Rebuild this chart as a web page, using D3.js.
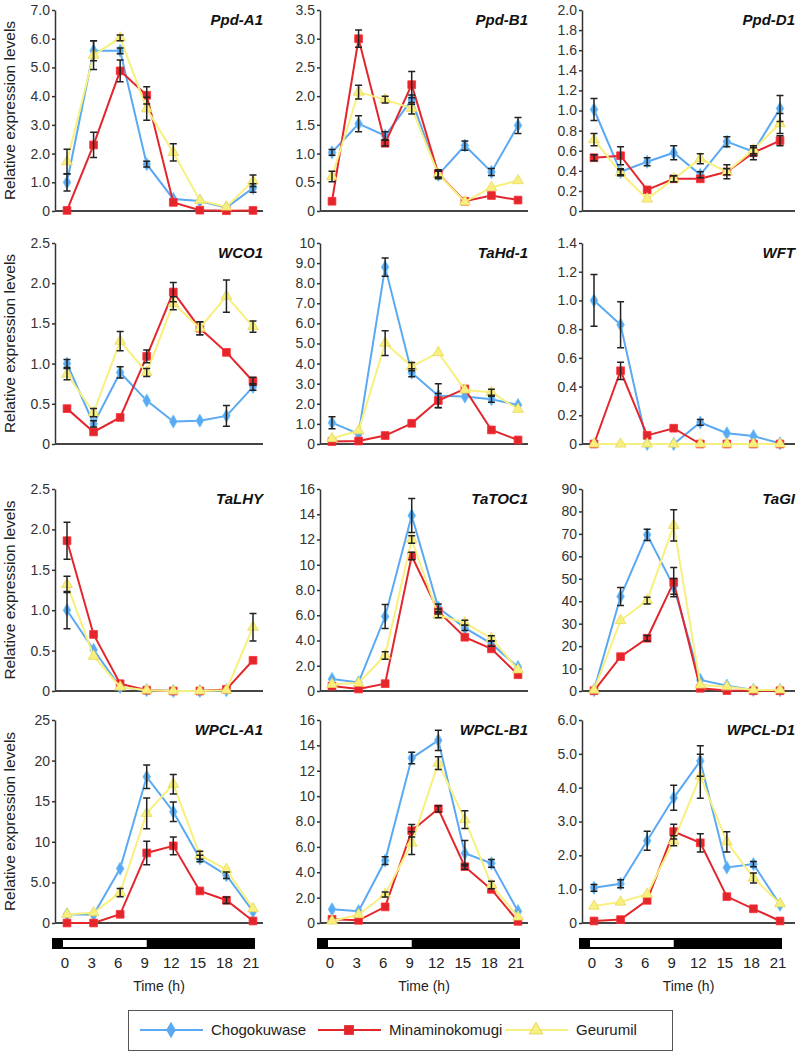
<!DOCTYPE html>
<html lang="en">
<head>
  <meta charset="UTF-8">
  <title>Diurnal expression of flowering genes</title>
  <script src="https://d3js.org/d3.v7.min.js"></script>
  <style>
    body { margin: 0; background: #fff; }
    svg { font-family: "Liberation Sans", Arial, sans-serif; display: block; }
    .axis path, .axis line { stroke: #333; stroke-width: 1.5; }
    .axis text { fill: #333; font-size: 14px; }
  </style>
</head>
<body>
  <svg width="800" height="1057"></svg>
  <script>
    // time points (h)
    const times = [0, 3, 6, 9, 12, 15, 18, 21];
    const genes = ["Ppd-A1", "Ppd-B1", "Ppd-D1", "WCO1", "TaHd-1", "WFT",
                   "TaLHY", "TaTOC1", "TaGI", "WPCL-A1", "WPCL-B1", "WPCL-D1"];
    const yMax = [7, 3.5, 2, 2.5, 10, 1.4, 2.5, 16, 90, 25, 16, 6];
    const yTicks = [
      [0, 1, 2, 3, 4, 5, 6, 7],
      [0, 0.5, 1, 1.5, 2, 2.5, 3, 3.5],
      [0, 0.2, 0.4, 0.6, 0.8, 1, 1.2, 1.4, 1.6, 1.8, 2],
      [0, 0.5, 1, 1.5, 2, 2.5],
      [0, 1, 2, 3, 4, 5, 6, 7, 8, 9, 10],
      [0, 0.2, 0.4, 0.6, 0.8, 1, 1.2, 1.4],
      [0, 0.5, 1, 1.5, 2, 2.5],
      [0, 2, 4, 6, 8, 10, 12, 14, 16],
      [0, 10, 20, 30, 40, 50, 60, 70, 80, 90],
      [0, 5, 10, 15, 20, 25],
      [0, 2, 4, 6, 8, 10, 12, 14, 16],
      [0, 1, 2, 3, 4, 5, 6]
    ];

    const seriesNames = ["Chogokuwase", "Minaminokomugi", "Geurumil"];

    // Chogokuwase (blue)
    const chogokuwase = [
      [1.0, 5.58, 5.58, 1.63, 0.42, 0.35, 0.12, 0.8],
      [1.02, 1.52, 1.31, 1.94, 0.63, 1.14, 0.68, 1.49],
      [1.01, 0.39, 0.49, 0.58, 0.36, 0.69, 0.59, 1.02],
      [1.0, 0.25, 0.89, 0.54, 0.28, 0.29, 0.35, 0.71],
      [1.06, 0.5, 8.8, 3.55, 2.4, 2.36, 2.23, 1.94],
      [1.0, 0.83, 0, 0, 0.15, 0.075, 0.055, 0.005],
      [1.0, 0.51, 0.05, 0.01, 0, 0, 0.01, null],
      [0.95, 0.68, 5.9, 13.9, 6.6, 5.0, 3.75, 1.89],
      [0.4, 42.1, 69.6, 46.6, 4.9, 2.4, 0.5, 0.4],
      [1.07, 1.03, 6.7, 18.0, 13.7, 7.94, 5.88, 1.44],
      [1.08, 0.93, 4.92, 13.0, 14.4, 5.5, 4.7, 0.93],
      [1.04, 1.16, 2.43, 3.7, 4.79, 1.64, 1.74, 0.54]
    ];
    const chogokuwaseErr = [
      [0.3, 0.35, 0.1, 0.1, 0.05, 0.05, 0.05, 0.15],
      [0.05, 0.14, 0.07, 0.08, 0.07, 0.08, 0.06, 0.14],
      [0.11, 0.03, 0.04, 0.07, 0.03, 0.05, 0.04, 0.13],
      [0.05, 0.04, 0.07, 0.03, 0.02, 0.02, 0.13, 0.04],
      [0.3, 0.05, 0.45, 0.2, 0.6, 0.1, 0.15, 0.1],
      [0.18, 0.16, 0, 0, 0.02, 0.01, 0.01, 0],
      [0.23, 0.03, 0.01, 0, 0, 0, 0, 0],
      [0.1, 0.05, 0.95, 1.35, 0.3, 0.2, 0.2, 0.1],
      [0.2, 4, 2.5, 3.5, 0.5, 0.3, 0.1, 0.1],
      [0.1, 0.1, 0.3, 1.45, 1.2, 0.4, 0.4, 0.2],
      [0.05, 0.05, 0.3, 0.45, 0.8, 1.0, 0.3, 0.1],
      [0.1, 0.12, 0.28, 0.37, 0.45, 0.05, 0.08, 0.05]
    ];

    // Minaminokomugi (red)
    const minaminokomugi = [
      [0.02, 2.3, 4.88, 4.03, 0.3, 0.03, 0.01, 0.02],
      [0.17, 3.0, 1.18, 2.2, 0.65, 0.17, 0.27, 0.19],
      [0.53, 0.55, 0.21, 0.32, 0.32, 0.39, 0.58, 0.7],
      [0.44, 0.15, 0.33, 1.09, 1.89, 1.44, 1.14, 0.78],
      [0.12, 0.15, 0.42, 1.03, 2.16, 2.74, 0.7, 0.2],
      [0, 0.51, 0.06, 0.11, 0, 0, 0, 0],
      [1.86, 0.7, 0.09, 0.01, 0, 0, 0.02, 0.38],
      [0.39, 0.16, 0.58, 10.7, 6.3, 4.26, 3.34, 1.29],
      [0.1, 15.3, 23.5, 48.5, 1.2, 0.2, 0.1, 0.1],
      [0, 0, 1.07, 8.63, 9.5, 3.95, 2.8, 0.25],
      [0.29, 0.21, 1.27, 7.27, 9.0, 4.44, 2.65, 0.13],
      [0.06, 0.1, 0.67, 2.7, 2.37, 0.78, 0.42, 0.06]
    ];
    const minaminokomugiErr = [
      [0.02, 0.44, 0.38, 0.3, 0.05, 0.02, 0.01, 0.01],
      [0.03, 0.15, 0.05, 0.23, 0.07, 0.03, 0.03, 0.02],
      [0.03, 0.09, 0.02, 0.03, 0.02, 0.07, 0.07, 0.05],
      [0.03, 0.02, 0.03, 0.08, 0.12, 0.08, 0.03, 0.05],
      [0.05, 0.05, 0.05, 0.08, 0.35, 0.1, 0.05, 0.05],
      [0, 0.06, 0.01, 0.01, 0, 0, 0, 0],
      [0.23, 0.03, 0.01, 0, 0, 0, 0, 0.02],
      [0.05, 0.05, 0.1, 0.3, 0.2, 0.15, 0.15, 0.1],
      [0.1, 0.8, 1.2, 6.5, 0.3, 0.1, 0.1, 0.1],
      [0.05, 0.05, 0.2, 1.45, 1.1, 0.3, 0.4, 0.1],
      [0.05, 0.05, 0.15, 0.5, 0.25, 0.2, 0.15, 0.05],
      [0.02, 0.02, 0.04, 0.22, 0.27, 0.04, 0.03, 0.02]
    ];

    // Geurumil (yellow)
    const geurumil = [
      [1.72, 5.43, 6.03, 3.56, 2.04, 0.37, 0.14, 1.05],
      [0.6, 2.07, 1.94, 1.79, 0.64, 0.16, 0.41, 0.53],
      [0.71, 0.38, 0.12, 0.32, 0.52, 0.39, 0.61, 0.87],
      [0.87, 0.39, 1.28, 0.89, 1.75, 1.44, 1.84, 1.46],
      [0.27, 0.66, 5.02, 3.85, 4.55, 2.69, 2.57, 1.73],
      [0, 0, 0, 0, 0, 0, 0, 0],
      [1.32, 0.43, 0.05, 0.01, 0, 0, 0.01, 0.79],
      [0.53, 0.63, 2.81, 12.0, 6.0, 5.4, 4.18, 1.68],
      [0.4, 31.4, 40.3, 73.8, 2.7, 1.9, 0.5, 0.5],
      [1.07, 1.27, 3.74, 13.5, 17.1, 8.35, 6.6, 1.77],
      [0.16, 0.66, 2.25, 6.3, 12.6, 8.15, 3.0, 0.48],
      [0.5, 0.62, 0.85, 2.43, 4.34, 2.4, 1.33, 0.57]
    ];
    const geurumilErr = [
      [0.43, 0.5, 0.1, 0.4, 0.3, 0.05, 0.03, 0.2],
      [0.09, 0.12, 0.06, 0.1, 0.05, 0.03, 0.04, 0.03],
      [0.06, 0.03, 0.02, 0.03, 0.05, 0.03, 0.04, 0.1],
      [0.07, 0.05, 0.12, 0.05, 0.08, 0.08, 0.2, 0.07],
      [0.05, 0.1, 0.62, 0.2, 0.1, 0.1, 0.15, 0.08],
      [0, 0, 0, 0, 0, 0, 0, 0],
      [0.1, 0.03, 0.01, 0, 0, 0, 0, 0.17],
      [0.1, 0.05, 0.3, 0.3, 0.2, 0.2, 0.2, 0.1],
      [0.2, 1, 1.5, 7, 0.5, 0.3, 0.1, 0.1],
      [0.1, 0.1, 0.5, 1.9, 1.2, 0.5, 0.3, 0.2],
      [0.05, 0.1, 0.2, 0.9, 0.5, 0.7, 0.3, 0.1],
      [0.05, 0.05, 0.05, 0.15, 0.65, 0.3, 0.15, 0.05]
    ];

    const colors = ["#5aa9f2", "#e2262c", "#f8f07e"];
    const symbols = [d3.symbolDiamond, d3.symbolSquare, d3.symbolTriangle];
    const symSize = [50, 60, 50];

    // layout of the 4x3 grid
    const colAxisX = [55, 320, 582];
    const colAxisEnd = [263, 528, 795];
    const rowTop = [10, 243, 489, 720];
    const rowZero = [211, 444, 691, 923];

    const svg = d3.select("svg");
    const fmt = d => d === 0 ? "0" : (d < 10 ? d.toFixed(1) : String(d));

    const allValues = [chogokuwase, minaminokomugi, geurumil];
    const allErrs = [chogokuwaseErr, minaminokomugiErr, geurumilErr];

    genes.forEach((gene, gi) => {
      const col = gi % 3, row = Math.floor(gi / 3);
      const ax = colAxisX[col];
      const x = d3.scaleLinear().domain([0, 21]).range([ax + 12, ax + 198]);
      const y = d3.scaleLinear().domain([0, yMax[gi]]).range([rowZero[row], rowTop[row]]);
      const g = svg.append("g");

      // y axis
      g.append("g")
        .attr("class", "axis")
        .attr("transform", `translate(${ax},0)`)
        .call(d3.axisLeft(y).tickValues(yTicks[gi]).tickFormat(fmt)
          .tickSize(3).tickSizeOuter(0).tickPadding(2));

      // x axis baseline
      g.append("line")
        .attr("x1", ax).attr("x2", colAxisEnd[col])
        .attr("y1", y(0)).attr("y2", y(0))
        .attr("stroke", "#444").attr("stroke-width", 2);

      // y label on first column
      if (col === 0) {
        g.append("text")
          .attr("transform", `translate(15,${(rowTop[row] + rowZero[row]) / 2}) rotate(-90)`)
          .attr("text-anchor", "middle")
          .attr("font-size", 15.5)
          .attr("fill", "#222")
          .text("Relative expression levels");
      }

      // gene title
      g.append("text")
        .attr("x", colAxisEnd[col])
        .attr("y", rowTop[row] + 15)
        .attr("text-anchor", "end")
        .attr("font-size", 15)
        .attr("font-weight", "bold")
        .attr("font-style", "italic")
        .attr("fill", "#111")
        .text(gene);

      // series lines + markers
      allValues.forEach((vals, si) => {
        const pts = times.map((t, i) => ({ t, v: vals[gi][i] })).filter(d => d.v !== null);
        g.append("path")
          .datum(pts)
          .attr("fill", "none")
          .attr("stroke", colors[si])
          .attr("stroke-width", 2)
          .attr("d", d3.line().x(d => x(d.t)).y(d => y(d.v)));
        g.selectAll(null)
          .data(pts)
          .join("path")
          .attr("transform", d => `translate(${x(d.t)},${y(d.v)})`)
          .attr("d", d3.symbol().type(symbols[si]).size(symSize[si]))
          .attr("fill", colors[si])
          .attr("stroke", si === 2 ? "#e8d860" : d3.color(colors[si]).brighter(0.4))
          .attr("stroke-width", 0.8);
      });

      // error bars
      allValues.forEach((vals, si) => {
        times.forEach((t, i) => {
          const v = vals[gi][i], e = allErrs[si][gi][i];
          if (v === null || !e || e * (rowZero[row] - rowTop[row]) / yMax[gi] < 2.5) return;
          const cx = x(t), y1 = y(v + e), y2 = y(Math.max(0, v - e));
          g.append("path")
            .attr("d", `M${cx},${y1}V${y2}M${cx - 3.5},${y1}H${cx + 3.5}M${cx - 3.5},${y2}H${cx + 3.5}`)
            .attr("stroke", "#222")
            .attr("stroke-width", 1.5)
            .attr("fill", "none");
        });
      });

      // bottom row: light/dark bar, time labels
      if (row === 3) {
        g.append("rect")
          .attr("x", ax - 3).attr("y", 938)
          .attr("width", 203).attr("height", 11)
          .attr("fill", "#000");
        g.append("rect")
          .attr("x", x(0) - 4).attr("y", 940)
          .attr("width", x(9) - x(0) + 4).attr("height", 7)
          .attr("fill", "#fff");
        g.selectAll(null)
          .data(times)
          .join("text")
          .attr("x", d => x(d) - 2)
          .attr("y", 968)
          .attr("text-anchor", "middle")
          .attr("font-size", 15)
          .attr("fill", "#222")
          .text(d => d);
        g.append("text")
          .attr("x", (ax + colAxisEnd[col]) / 2)
          .attr("y", 991)
          .attr("text-anchor", "middle")
          .attr("font-size", 14)
          .attr("fill", "#222")
          .text("Time (h)");
      }
    });

    // legend
    const legend = svg.append("g");
    legend.append("rect")
      .attr("x", 128.5).attr("y", 1010.5)
      .attr("width", 544).attr("height", 40)
      .attr("fill", "#fff").attr("stroke", "#555").attr("stroke-width", 1);
    const legX = [140, 318, 505];
    seriesNames.forEach((name, si) => {
      const lx = legX[si];
      legend.append("line")
        .attr("x1", lx).attr("x2", lx + 63)
        .attr("y1", 1030).attr("y2", 1030)
        .attr("stroke", colors[si]).attr("stroke-width", 2);
      legend.append("path")
        .attr("transform", `translate(${lx + 31},1030)`)
        .attr("d", d3.symbol().type(symbols[si]).size(symSize[si] * 1.6))
        .attr("fill", colors[si])
        .attr("stroke", si === 2 ? "#e8d860" : "none");
      legend.append("text")
        .attr("x", lx + 71).attr("y", 1035)
        .attr("font-size", 15)
        .attr("fill", "#222")
        .text(name);
    });
  </script>
</body>
</html>
